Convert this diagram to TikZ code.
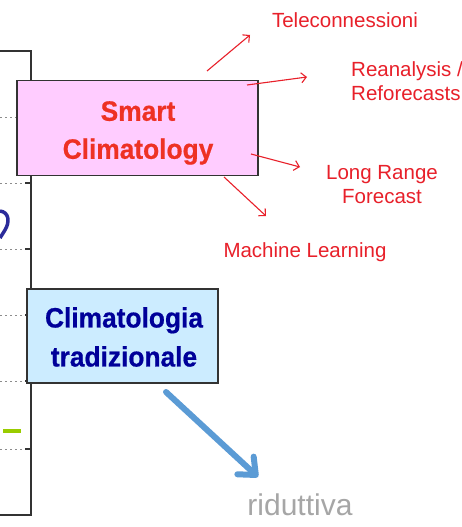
\documentclass[tikz,border=0pt]{standalone}
\usepackage{fontspec}
\setmainfont{Liberation Sans}
\newfontfamily\boxfont{Liberation Sans}[FakeStretch=0.94,FakeBold=0.6]
\usetikzlibrary{arrows.meta}
\definecolor{frameline}{HTML}{333333}
\definecolor{dotgray}{HTML}{8C8C8C}
\definecolor{pinkfill}{HTML}{FFCCFF}
\definecolor{bluefill}{HTML}{CCECFF}
\definecolor{smartred}{HTML}{EE3124}
\definecolor{labelred}{HTML}{E8202A}
\definecolor{navy}{HTML}{000099}
\definecolor{arrowblue}{HTML}{5B9BD5}
\definecolor{softgray}{HTML}{A6A6A6}
\definecolor{qblue}{HTML}{2B2B9A}
\definecolor{limegreen}{HTML}{99CC00}
\begin{document}
\begin{tikzpicture}[x=1pt,y=-1pt,
  frame/.style={draw=frameline,line width=1.6pt},
  guide/.style={draw=dotgray,line width=1pt,dash pattern=on 2pt off 3pt},
  tick/.style={draw=frameline,line width=1.2pt},
  box/.style={draw=frameline,line width=1.6pt,rectangle,inner sep=0pt},
  boxtext/.style={inner sep=0pt,align=center,font=\boxfont\bfseries\fontsize{28}{38}\selectfont},
  label/.style={inner sep=0pt,text=labelred,font=\fontsize{20.5}{24}\selectfont},
  thinarrow/.style={draw=labelred,line width=1.1pt,-{Straight Barb[length=5pt,width=10pt]}},
  bigarrow/.style={draw=arrowblue,line width=6pt,line cap=round,
    -{Straight Barb[length=14pt,width=24pt,round]}}]
\useasboundingbox (0,0) rectangle (462,527);
\fill[white] (0,0) rectangle (462,527);

% axis frame on the left
\coordinate (ftop) at (0,51);
\coordinate (fcorner) at (31,51);
\coordinate (fbottom) at (31,515);
\coordinate (fend) at (0,515);
\draw[frame] (ftop) -- (fcorner) -- (fbottom) -- (fend);

% dotted guide lines with short ticks on the axis
\foreach \y in {117,183,249,315,381,449}{
  \draw[guide] (0,\y) -- (25,\y);
  \draw[tick] (25,\y) -- (31,\y);
}

% partial glyph and marker left of the axis
\draw[qblue,line width=3.5pt] (0,211) .. controls (9,212) and (10,222) .. (5,230) -- (0,238);
\draw[limegreen,line width=4pt] (3,431) -- (21,431);

% boxes
\node[box,fill=pinkfill,minimum width=241pt,minimum height=95pt] (smart) at (137.5,128) {};
\node[boxtext,text=smartred,anchor=north] (smarttext) at (138,101) {Smart\\Climatology};

\node[box,fill=bluefill,minimum width=191pt,minimum height=94pt] (trad) at (122.5,336) {};
\node[boxtext,text=navy,anchor=north,font=\boxfont\bfseries\fontsize{28}{39}\selectfont] (tradtext) at (124,307) {Climatologia\\tradizionale};

% labels
\node[label,anchor=north] (tele) at (345,12) {Teleconnessioni};
\node[label,anchor=north west,align=left] (rean) at (351,61) {Reanalysis /\\Reforecasts};
\node[label,anchor=north,align=center] (lrf) at (382,165) {Long Range\\Forecast};
\node[label,anchor=north] (ml) at (305,242) {Machine Learning};
\node[inner sep=0pt,anchor=north,text=softgray,font=\fontsize{30}{34}\selectfont] (rid) at (300,494) {riduttiva};

% red arrows out of Smart Climatology
\coordinate (s1) at (207,71);  \coordinate (e1) at (250,35);
\coordinate (s2) at (247,85);  \coordinate (e2) at (307,77);
\coordinate (s3) at (251,154); \coordinate (e3) at (300,167);
\coordinate (s4) at (224,177); \coordinate (e4) at (266,216);
\draw[thinarrow] (s1) -- (e1);
\draw[thinarrow] (s2) -- (e2);
\draw[thinarrow] (s3) -- (e3);
\draw[thinarrow] (s4) -- (e4);

% blue arrow towards riduttiva
\coordinate (b1) at (166,392);
\coordinate (b2) at (258,477);
\draw[bigarrow] (b1) -- (b2);
\end{tikzpicture}
\end{document}
